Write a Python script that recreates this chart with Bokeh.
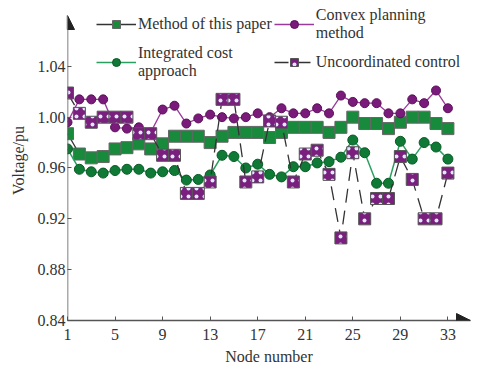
from bokeh.plotting import figure
from bokeh.models import (FixedTicker, NumeralTickFormatter, Legend, LegendItem,
                          Arrow, NormalHead, Range1d)
from bokeh.embed import file_html
from bokeh.resources import INLINE

nodes = list(range(1, 34))
method_paper = [0.987, 0.971, 0.968, 0.969, 0.975, 0.976, 0.979, 0.975, 0.979, 0.985,
                0.985, 0.985, 0.980, 0.985, 0.988, 0.988, 0.988, 0.984, 0.988, 0.992,
                0.992, 0.992, 0.988, 0.992, 1.000, 0.995, 0.995, 0.991, 0.996, 1.000,
                1.000, 0.995, 0.991]
convex = [0.996, 1.014, 1.014, 1.014, 0.992, 0.991, 0.992, 0.988, 1.006, 1.009,
          0.995, 0.999, 1.002, 1.000, 0.999, 1.000, 1.003, 1.000, 1.007, 1.003,
          1.003, 1.007, 1.003, 1.017, 1.012, 1.011, 1.011, 1.003, 1.003, 1.014,
          1.011, 1.021, 1.007]
integrated = [0.975, 0.959, 0.957, 0.956, 0.958, 0.959, 0.959, 0.956, 0.957, 0.958,
              0.9505, 0.951, 0.9545, 0.970, 0.969, 0.960, 0.963, 0.955, 0.953, 0.961,
              0.961, 0.964, 0.965, 0.9685, 0.982, 0.972, 0.948, 0.948, 0.981, 0.967,
              0.980, 0.9765, 0.967]
uncoord = [1.019, 1.003, 0.996, 1.000, 1.000, 1.000, 0.987, 0.987, 0.970, 0.970,
           0.940, 0.940, 0.949, 1.014, 1.014, 0.949, 0.953, 0.997, 0.996, 0.949,
           0.971, 0.974, 0.955, 0.905, 0.972, 0.920, 0.936, 0.936, 0.969, 0.951,
           0.920, 0.920, 0.956]

x_ticks = [1, 5, 9, 13, 17, 21, 25, 29, 33]
y_ticks = [0.84, 0.88, 0.92, 0.96, 1.00, 1.04]
y_axis_top = 1.08

FONT = "Liberation Serif"
AX = "#555555"

p = figure(width=484, height=372, output_backend="svg", toolbar_location=None,
           x_range=Range1d(1, 34.9), y_range=Range1d(0.84, 1.0918),
           min_border_left=67, min_border_right=14, min_border_top=0, min_border_bottom=52)
p.outline_line_color = None
p.grid.visible = False
p.background_fill_color = "white"

for ax in (p.xaxis[0], p.yaxis[0]):
    ax.axis_line_color = AX
    ax.axis_line_width = 1.5
    ax.major_tick_line_color = AX
    ax.major_tick_in = 4
    ax.major_tick_out = 0
    ax.minor_tick_line_color = None
    ax.major_label_text_font = FONT
    ax.major_label_text_font_size = "16px"
    ax.major_label_text_color = "#333333"
    ax.axis_label_text_font = FONT
    ax.axis_label_text_font_size = "16px"
    ax.axis_label_text_font_style = "normal"
    ax.axis_label_text_color = "#333333"

p.yaxis.axis_line_color = None
p.xaxis.ticker = FixedTicker(ticks=x_ticks)
p.yaxis.ticker = FixedTicker(ticks=y_ticks)
p.yaxis.formatter = NumeralTickFormatter(format="0.00")
p.xaxis.axis_label = "Node number"
p.yaxis.axis_label = "Voltage/pu"
p.xaxis.major_label_standoff = 8
p.yaxis.major_label_standoff = 2
p.xaxis.axis_label_standoff = 5
p.yaxis.axis_label_standoff = 8

# series
l1 = p.line(nodes, method_paper, line_color="#333333", line_width=1.3)
s1 = p.scatter(nodes, method_paper, marker="square", size=12, fill_color="#178a3c",
               line_color="#666666", line_width=1)
l2 = p.line(nodes, convex, line_color="#9a3a9a", line_width=1.3)
s2 = p.scatter(nodes, convex, marker="circle", size=9, fill_color="#7a1a7a",
               line_color="#5a105a", line_width=1)
l3 = p.line(nodes, integrated, line_color="#2aa060", line_width=1.5)
s3 = p.scatter(nodes, integrated, marker="circle", size=10, fill_color="#0f7a35",
               line_color="#0a5a25", line_width=1)
l4 = p.line(nodes, uncoord, line_color="#333333", line_width=1.3, line_dash="14 8")
s4 = p.scatter(nodes, uncoord, marker="square", size=12, fill_color="#7b1f7f",
               line_color="#555555", line_width=1, hatch_pattern="dot",
               hatch_color="#e0e8ff", hatch_scale=8, hatch_weight=2)

legend = Legend(items=[
    LegendItem(label="Method of this paper", renderers=[l1, s1]),
    LegendItem(label="Convex planning\nmethod", renderers=[l2, s2]),
    LegendItem(label="Integrated cost\napproach", renderers=[l3, s3]),
    LegendItem(label="Uncoordinated control", renderers=[l4, s4]),
], location=(29, 240), orientation="horizontal", ncols=2)
legend.label_text_font = FONT
legend.label_text_font_size = "16px"
legend.label_text_color = "#333333"
legend.glyph_width = 40
legend.label_standoff = 2
legend.spacing = 2
legend.padding = 0
legend.border_line_alpha = 0
legend.background_fill_alpha = 0
legend.label_text_line_height = 1.0
p.add_layout(legend, "center")

# axis arrows (y axis line drawn by the arrow)
p.add_layout(Arrow(end=NormalHead(size=14, fill_color="#222222", line_color="#222222"),
                   x_start=1, y_start=0.84, x_end=1, y_end=y_axis_top,
                   line_color=AX, line_width=1.5))
p.add_layout(Arrow(end=NormalHead(size=14, fill_color="#222222", line_color="#222222"),
                   x_start=33.5, y_start=0.84, x_end=34.9, y_end=0.84, line_alpha=0))

open("out.html", "w").write(file_html(p, INLINE))
